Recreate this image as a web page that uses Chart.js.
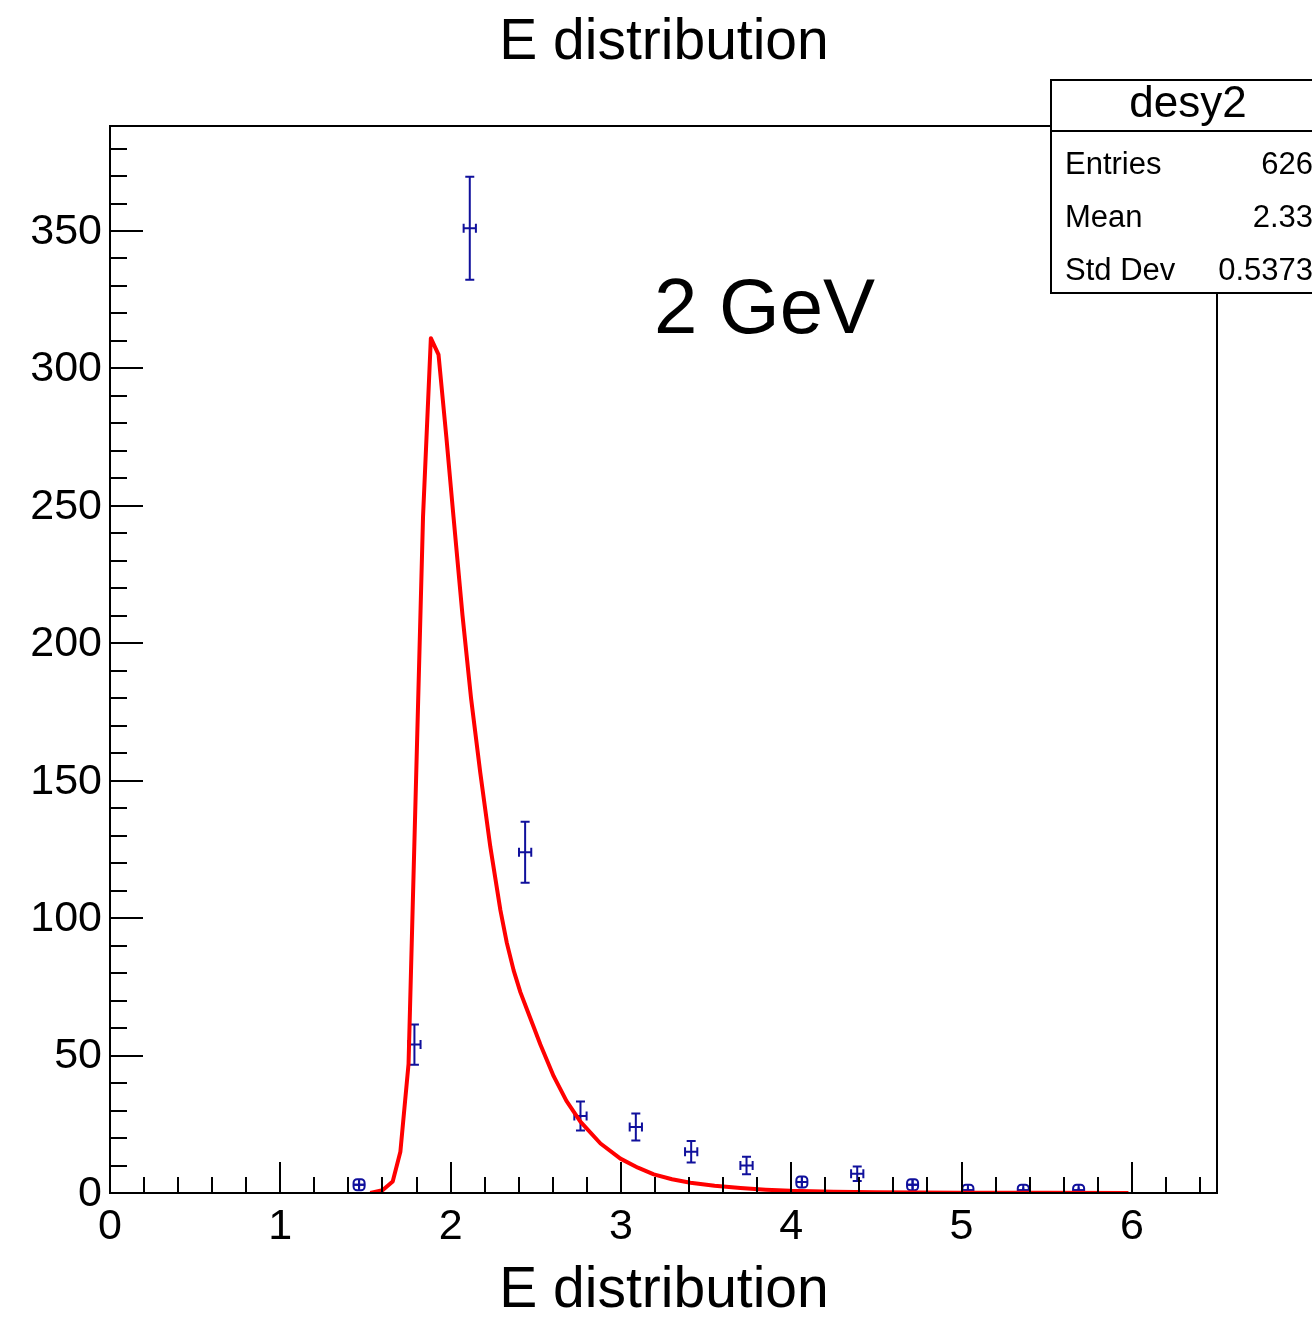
<!DOCTYPE html>
<html>
<head>
<meta charset="utf-8">
<script src="https://cdn.jsdelivr.net/npm/chart.js@4.4.1/dist/chart.umd.min.js"></script>
<style>
  html, body { margin: 0; padding: 0; background: #fff; }
  canvas { display: block; }
</style>
</head>
<body>
<canvas id="eChart" width="1312" height="1319"></canvas>
<script>
// histogram "desy2"
const binCenters = [1.4625, 1.7875, 2.1125, 2.4375, 2.7625, 3.0875, 3.4125, 3.7375, 4.0625, 4.3875, 4.7125, 5.0375, 5.3625, 5.6875];
const counts = [3, 54, 351, 124, 28, 24, 15, 10, 4, 7, 3, 1, 1, 1];
const countErrors = [1.7, 7.3, 18.7, 11.1, 5.3, 4.9, 3.9, 3.2, 2.0, 2.6, 1.7, 1.0, 1.0, 1.0];
const xErr = 0.036;

// fitted curve (red)
const curveX = [1.528, 1.600, 1.660, 1.705, 1.753, 1.838, 1.884, 1.929, 1.975, 2.017, 2.070, 2.120, 2.174, 2.233, 2.292, 2.330, 2.370, 2.410, 2.450, 2.490, 2.527, 2.605, 2.680, 2.762, 2.880, 2.997, 3.100, 3.193, 3.300, 3.408, 3.550, 3.702, 3.850, 3.996, 4.250, 4.500, 5.000, 5.500, 5.980];
const curveY = [0, 1.0, 4.2, 15, 47, 246, 311, 305, 275, 246, 210, 180, 153, 126, 103, 91, 81, 73, 66.5, 60, 54, 42.5, 33.5, 26, 18, 12.5, 9.2, 6.8, 5.0, 3.7, 2.6, 1.8, 1.2, 0.8, 0.5, 0.3, 0.12, 0.05, 0.02];

// axes
const xTickValues = [0, 1, 2, 3, 4, 5, 6];
const xTickLabels = ["0", "1", "2", "3", "4", "5", "6"];
const yTickValues = [0, 50, 100, 150, 200, 250, 300, 350];
const yTickLabels = ["0", "50", "100", "150", "200", "250", "300", "350"];

// stats box
const statsName = "desy2";
const statsLabels = ["Entries", "Mean", "Std Dev"];
const statsValues = ["626", "2.33", "0.5373"];

const FONT = '"Liberation Sans", Arial, Helvetica, sans-serif';
const BLUE = "#10109c";

const rootStyle = {
  id: "rootStyle",
  beforeDraw(chart) {
    const { ctx } = chart;
    ctx.save();
    ctx.fillStyle = "#fff";
    ctx.fillRect(0, 0, chart.width, chart.height);
    ctx.restore();
  },
  beforeDatasetsDraw(chart) {
    // error bars drawn under the fit
    const { ctx, chartArea } = chart;
    const xs = chart.scales.x, ys = chart.scales.y;
    ctx.save();
    ctx.beginPath();
    ctx.rect(chartArea.left, chartArea.top, chartArea.right - chartArea.left, chartArea.bottom - chartArea.top);
    ctx.clip();
    ctx.strokeStyle = BLUE;
    ctx.lineWidth = 2;
    binCenters.forEach((c, i) => {
      const px = xs.getPixelForValue(c);
      const py = ys.getPixelForValue(counts[i]);
      const pLo = ys.getPixelForValue(counts[i] - countErrors[i]);
      const pHi = ys.getPixelForValue(counts[i] + countErrors[i]);
      const xl = xs.getPixelForValue(c - xErr);
      const xr = xs.getPixelForValue(c + xErr);
      ctx.beginPath();
      ctx.moveTo(px, pLo); ctx.lineTo(px, pHi);
      ctx.moveTo(xl, py); ctx.lineTo(xr, py);
      if (pLo - py > 6.5) {
        ctx.moveTo(px - 4.5, pLo); ctx.lineTo(px + 4.5, pLo);
        ctx.moveTo(px - 4.5, pHi); ctx.lineTo(px + 4.5, pHi);
        ctx.moveTo(xl, py - 4.5); ctx.lineTo(xl, py + 4.5);
        ctx.moveTo(xr, py - 4.5); ctx.lineTo(xr, py + 4.5);
        ctx.stroke();
      } else {
        ctx.stroke();
        ctx.beginPath();
        ctx.roundRect(px - 5.5, py - 5.5, 11, 11, 3.5);
        ctx.stroke();
        ctx.beginPath();
        ctx.moveTo(px - 5.5, py); ctx.lineTo(px + 5.5, py);
        ctx.moveTo(px, py - 5.5); ctx.lineTo(px, py + 5.5);
        ctx.stroke();
      }
    });
    ctx.restore();
  },
  afterDatasetsDraw(chart) {
    const { ctx, chartArea } = chart;
    const xs = chart.scales.x, ys = chart.scales.y;
    const { left, right, top, bottom } = chartArea;
    ctx.save();
    ctx.strokeStyle = "#000";
    ctx.lineWidth = 2;
    ctx.strokeRect(left, top, right - left, bottom - top);

    // x ticks
    ctx.beginPath();
    for (let k = 0; k <= 32; k++) {
      const v = k * 0.2;
      const px = Math.round(xs.getPixelForValue(v));
      const len = (k % 5 === 0) ? 31 : 16;
      ctx.moveTo(px, bottom); ctx.lineTo(px, bottom - len);
    }
    // y ticks
    for (let k = 0; k <= 38; k++) {
      const v = k * 10;
      const py = Math.round(ys.getPixelForValue(v));
      const len = (k % 5 === 0) ? 33 : 17;
      ctx.moveTo(left, py); ctx.lineTo(left + len, py);
    }
    ctx.stroke();

    ctx.fillStyle = "#000";
    ctx.font = "43px " + FONT;
    ctx.textAlign = "center";
    ctx.textBaseline = "alphabetic";
    xTickValues.forEach((v, i) => {
      ctx.fillText(xTickLabels[i], xs.getPixelForValue(v), bottom + 46);
    });
    ctx.textAlign = "right";
    ctx.textBaseline = "middle";
    yTickValues.forEach((v, i) => {
      ctx.fillText(yTickLabels[i], left - 8, ys.getPixelForValue(v) + 1);
    });
    ctx.restore();
  },
  afterDraw(chart) {
    const { ctx } = chart;
    ctx.save();
    ctx.fillStyle = "#000";
    ctx.textBaseline = "alphabetic";
    ctx.textAlign = "center";
    ctx.font = "57px " + FONT;
    ctx.fillText("E distribution", 664, 59);
    ctx.fillText("E distribution", 664, 1307);

    ctx.font = "78px " + FONT;
    ctx.textAlign = "left";
    ctx.fillText("2 GeV", 654, 333);

    // stats box
    ctx.fillStyle = "#fff";
    ctx.fillRect(1051, 80, 270, 213);
    ctx.strokeStyle = "#000";
    ctx.lineWidth = 2;
    ctx.strokeRect(1051, 80, 270, 213);
    ctx.beginPath();
    ctx.moveTo(1051, 131); ctx.lineTo(1312, 131);
    ctx.stroke();
    ctx.fillStyle = "#000";
    ctx.textAlign = "center";
    ctx.font = "44px " + FONT;
    ctx.fillText(statsName, 1188, 117);
    ctx.font = "31px " + FONT;
    statsLabels.forEach((lab, i) => {
      const y = 174 + i * 53;
      ctx.textAlign = "left";
      ctx.fillText(lab, 1065, y);
      ctx.textAlign = "right";
      ctx.fillText(statsValues[i], 1313, y);
    });
    ctx.restore();
  }
};

new Chart(document.getElementById("eChart"), {
  type: "scatter",
  data: {
    datasets: [
      {
        label: "fit",
        type: "line",
        data: curveX.map((x, i) => ({ x: x, y: curveY[i] })),
        borderColor: "#ff0000",
        borderWidth: 4,
        borderJoinStyle: "round",
        pointRadius: 0,
        tension: 0,
        fill: false,
      },
      {
        label: statsName,
        data: binCenters.map((x, i) => ({ x: x, y: counts[i] })),
        pointRadius: 0,
        backgroundColor: BLUE,
      },
    ],
  },
  options: {
    responsive: false,
    animation: false,
    devicePixelRatio: 1,
    layout: {
      padding: { left: 110, right: 95, top: 126, bottom: 126 },
    },
    scales: {
      x: { type: "linear", min: 0, max: 6.5, display: false },
      y: { type: "linear", min: 0, max: 388.2, display: false },
    },
    plugins: {
      legend: { display: false },
      tooltip: { enabled: false },
      title: { display: false },
    },
  },
  plugins: [rootStyle],
});
</script>
</body>
</html>
